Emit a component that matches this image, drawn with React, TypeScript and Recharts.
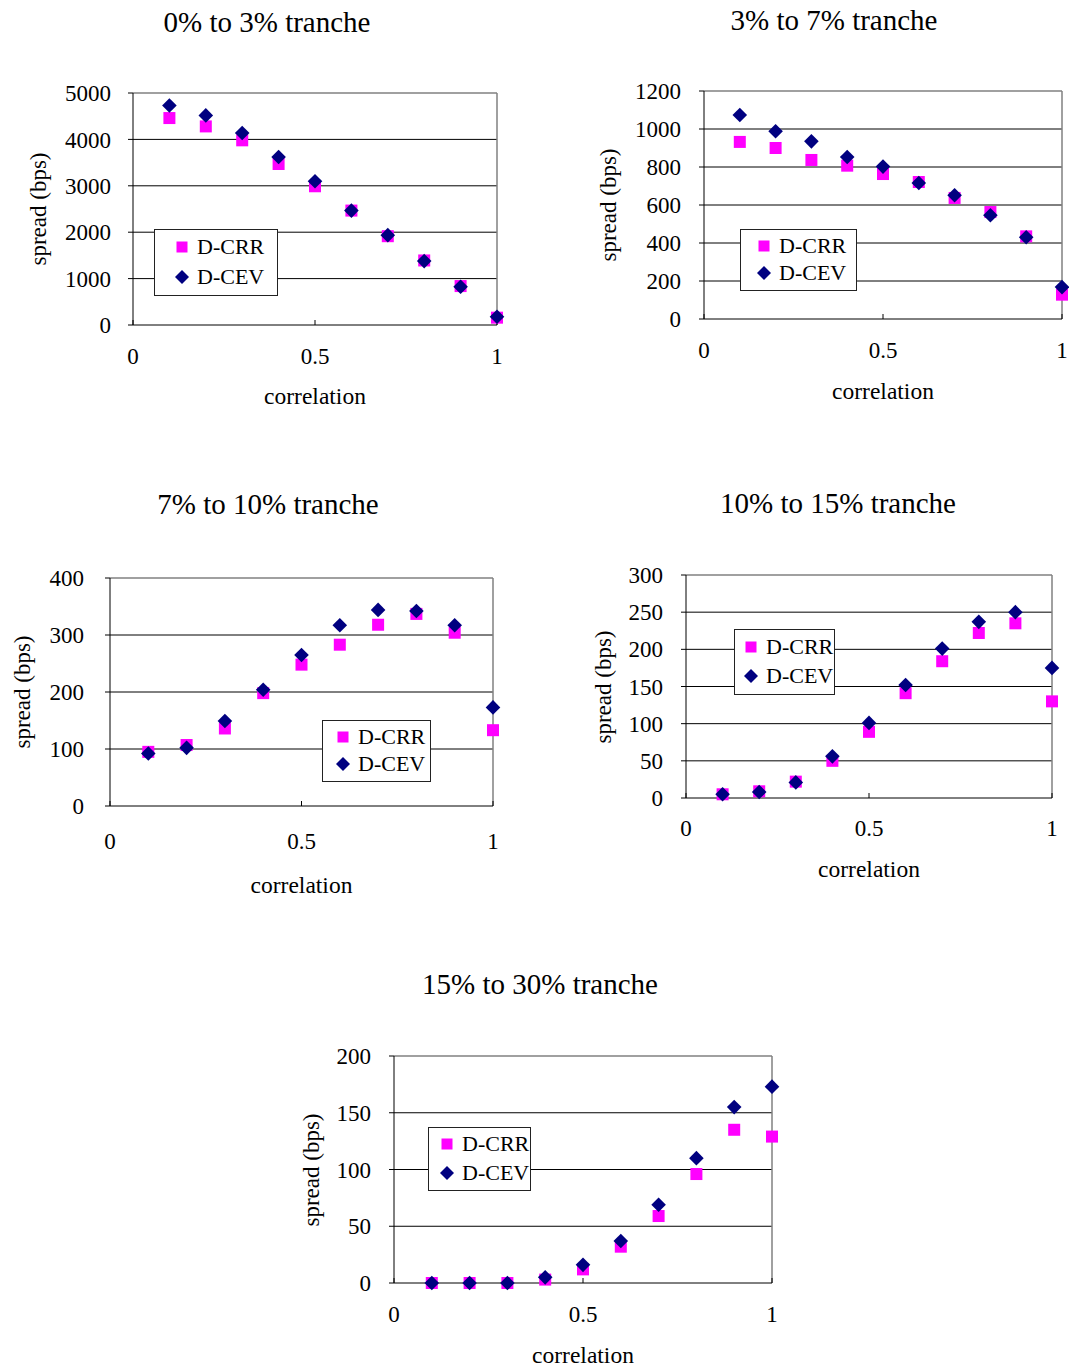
import React from "react";
import {
  ScatterChart,
  Scatter,
  XAxis,
  YAxis,
  CartesianGrid,
  ReferenceLine,
} from "recharts";

const correlation = [0.1, 0.2, 0.3, 0.4, 0.5, 0.6, 0.7, 0.8, 0.9, 1.0];

const crr0to3 = [4460, 4280, 3980, 3470, 2990, 2466, 1914, 1391, 839, 158];
const cev0to3 = [4732, 4517, 4137, 3621, 3097, 2466, 1936, 1377, 825, 179];

const crr3to7 = [932, 900, 837, 807, 763, 721, 637, 563, 435, 128];
const cev3to7 = [1074, 988, 935, 853, 802, 716, 651, 546, 430, 168];

const crr7to10 = [95, 107, 136, 198, 248, 283, 318, 337, 304, 133];
const cev7to10 = [92, 102, 149, 204, 265, 317, 344, 342, 317, 173];

const crr10to15 = [5, 9, 22, 50, 89, 141, 184, 222, 235, 130];
const cev10to15 = [5, 8, 21, 56, 101, 152, 201, 237, 250, 175];

const crr15to30 = [0, 0, 0, 3, 12, 32, 59, 96, 135, 129];
const cev15to30 = [0, 0, 0, 5, 16, 37, 69, 110, 155, 173];

const xTicks = [0, 0.5, 1];

const FONT = "'Liberation Serif', 'Times New Roman', serif";
const CRR_COLOR = "#ff00ff";
const CEV_COLOR = "#000080";

type Panel = {
  title: string;
  crr: number[];
  cev: number[];
  yMax: number;
  yStep: number;
  left: number;
  top: number;
  w: number;
  h: number;
  titleX: number;
  titleY: number;
  yLabelX: number;
  yTickGap: number;
  xTickDy: number;
  xLabelDy: number;
  legend: { x: number; y: number; w: number; h: number; pad: number };
};

const panels: Panel[] = [
  {
    title: "0% to 3% tranche",
    crr: crr0to3,
    cev: cev0to3,
    yMax: 5000,
    yStep: 1000,
    left: 133,
    top: 93,
    w: 364,
    h: 232,
    titleX: 267,
    titleY: 22,
    yLabelX: 38,
    yTickGap: 22,
    xTickDy: 31,
    xLabelDy: 72,
    legend: { x: 154, y: 229, w: 124, h: 67, pad: 27 },
  },
  {
    title: "3% to 7% tranche",
    crr: crr3to7,
    cev: cev3to7,
    yMax: 1200,
    yStep: 200,
    left: 704,
    top: 91,
    w: 358,
    h: 228,
    titleX: 834,
    titleY: 20,
    yLabelX: 608,
    yTickGap: 23,
    xTickDy: 31,
    xLabelDy: 73,
    legend: { x: 740, y: 229, w: 117, h: 62, pad: 23 },
  },
  {
    title: "7% to 10% tranche",
    crr: crr7to10,
    cev: cev7to10,
    yMax: 400,
    yStep: 100,
    left: 110,
    top: 578,
    w: 383,
    h: 228,
    titleX: 268,
    titleY: 504,
    yLabelX: 22,
    yTickGap: 26,
    xTickDy: 35,
    xLabelDy: 80,
    legend: { x: 322, y: 720, w: 109, h: 62, pad: 20 },
  },
  {
    title: "10% to 15% tranche",
    crr: crr10to15,
    cev: cev10to15,
    yMax: 300,
    yStep: 50,
    left: 686,
    top: 575,
    w: 366,
    h: 223,
    titleX: 838,
    titleY: 503,
    yLabelX: 603,
    yTickGap: 23,
    xTickDy: 30,
    xLabelDy: 72,
    legend: { x: 734, y: 629, w: 101, h: 66, pad: 16 },
  },
  {
    title: "15% to 30% tranche",
    crr: crr15to30,
    cev: cev15to30,
    yMax: 200,
    yStep: 50,
    left: 394,
    top: 1056,
    w: 378,
    h: 227,
    titleX: 540,
    titleY: 984,
    yLabelX: 311,
    yTickGap: 23,
    xTickDy: 31,
    xLabelDy: 73,
    legend: { x: 428, y: 1127, w: 103, h: 64, pad: 18 },
  },
];

const SquareDot = (props: any) => {
  const { cx, cy } = props;
  if (cx == null || cy == null) return null;
  return <rect x={cx - 6} y={cy - 6} width={12} height={12} fill={CRR_COLOR} />;
};

const DiamondDot = (props: any) => {
  const { cx, cy } = props;
  if (cx == null || cy == null) return null;
  const r = 7.3;
  return (
    <polygon
      points={`${cx},${cy - r} ${cx + r},${cy} ${cx},${cy + r} ${cx - r},${cy}`}
      fill={CEV_COLOR}
    />
  );
};

const textBase: React.CSSProperties = {
  position: "absolute",
  fontFamily: FONT,
  color: "#000",
  whiteSpace: "nowrap",
  lineHeight: 1,
};

function LegendBox({ box }: { box: Panel["legend"] }) {
  const rows = [
    { label: "D-CRR", square: true, cy: box.h * 0.25 },
    { label: "D-CEV", square: false, cy: box.h * 0.7 },
  ];
  return (
    <div
      style={{
        position: "absolute",
        left: box.x,
        top: box.y,
        width: box.w,
        height: box.h,
        boxSizing: "border-box",
        border: "1px solid #222",
        background: "#fff",
      }}
    >
      {rows.map((r) => (
        <React.Fragment key={r.label}>
          <svg
            width={16}
            height={16}
            style={{ position: "absolute", left: box.pad - 8, top: r.cy - 8 }}
          >
            {r.square ? (
              <rect x={2.5} y={2.5} width={11} height={11} fill={CRR_COLOR} />
            ) : (
              <polygon points="8,1 15,8 8,15 1,8" fill={CEV_COLOR} />
            )}
          </svg>
          <div
            style={{
              ...textBase,
              fontSize: 22,
              left: box.pad + 15,
              top: r.cy,
              transform: "translateY(-50%)",
            }}
          >
            {r.label}
          </div>
        </React.Fragment>
      ))}
    </div>
  );
}

function TrancheChart({ p }: { p: Panel }) {
  const crrData = correlation.map((x, i) => ({ x, y: p.crr[i] }));
  const cevData = correlation.map((x, i) => ({ x, y: p.cev[i] }));
  const yTicks: number[] = [];
  for (let v = 0; v <= p.yMax; v += p.yStep) yTicks.push(v);
  const gridValues = yTicks.filter((v) => v > 0 && v < p.yMax);

  const padL = 110;
  const padT = 20;
  const padR = 20;
  const padB = 80;

  return (
    <>
      <div
        style={{
          position: "absolute",
          left: p.left - padL,
          top: p.top - padT,
        }}
      >
        <ScatterChart
          width={p.w + padL + padR}
          height={p.h + padT + padB}
          margin={{ top: padT, right: padR, left: 0, bottom: 0 }}
        >
          <CartesianGrid
            horizontal
            vertical={false}
            horizontalValues={gridValues}
            stroke="#000"
            strokeDasharray=""
          />
          <XAxis
            type="number"
            dataKey="x"
            domain={[0, 1]}
            ticks={xTicks}
            tickFormatter={(v) => String(v)}
            height={padB}
            stroke="#000"
            tickSize={-5}
            tickMargin={p.xTickDy - 3}
            tick={{ fill: "#000", fontSize: 23, fontFamily: FONT }}
            allowDecimals
          />
          <YAxis
            type="number"
            dataKey="y"
            domain={[0, p.yMax]}
            ticks={yTicks}
            width={padL}
            stroke="#000"
            tickSize={5}
            tickMargin={p.yTickGap - 5}
            tick={{ fill: "#000", fontSize: 23, fontFamily: FONT }}
          />
          <ReferenceLine y={p.yMax} stroke="#808080" strokeWidth={1.5} />
          <ReferenceLine x={1} stroke="#808080" strokeWidth={1.5} />
          <Scatter data={crrData} shape={SquareDot} isAnimationActive={false} />
          <Scatter data={cevData} shape={DiamondDot} isAnimationActive={false} />
        </ScatterChart>
      </div>
      <div
        style={{
          ...textBase,
          fontSize: 29,
          left: p.titleX,
          top: p.titleY,
          transform: "translate(-50%, -50%)",
        }}
      >
        {p.title}
      </div>
      <div
        style={{
          ...textBase,
          fontSize: 23.5,
          left: p.left + p.w / 2,
          top: p.top + p.h + p.xLabelDy,
          transform: "translate(-50%, -50%)",
        }}
      >
        correlation
      </div>
      <div
        style={{
          ...textBase,
          fontSize: 23,
          left: p.yLabelX,
          top: p.top + p.h / 2,
          transform: "translate(-50%, -50%) rotate(-90deg)",
        }}
      >
        spread (bps)
      </div>
      <LegendBox box={p.legend} />
    </>
  );
}

export default function App() {
  return (
    <div
      style={{
        position: "absolute",
        left: 0,
        top: 0,
        width: 1069,
        height: 1367,
        background: "#fff",
        overflow: "hidden",
      }}
    >
      {panels.map((p) => (
        <TrancheChart key={p.title} p={p} />
      ))}
    </div>
  );
}
